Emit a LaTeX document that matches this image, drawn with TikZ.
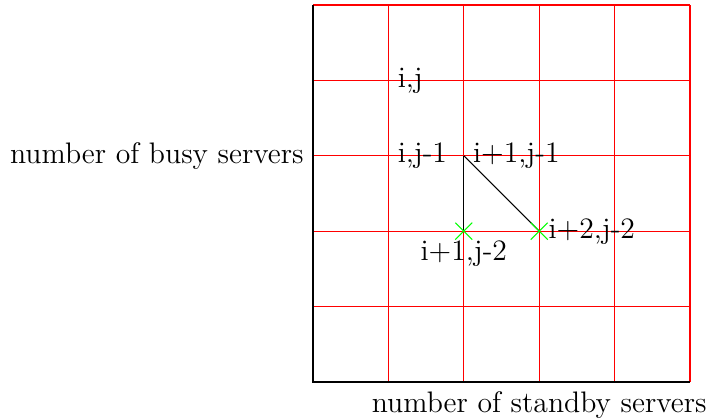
\documentclass[tikz,border=0pt]{standalone}
\usepackage{amsmath,amssymb}
\usepackage{xcolor}
\usepackage{tikz}
\usetikzlibrary{shapes.misc}

\begin{document}
\begin{tikzpicture}[every node/.style={font=\fontsize{11.2}{13}\selectfont}]
      \useasboundingbox (-4.151,-0.504) rectangle (5.212,5.066);

      % Grid of states
      \draw[red] (0,0) grid (5,5);

      % Axes
      \coordinate (origin) at (0,0);
      \coordinate (xend) at (5,0);
      \coordinate (yend) at (0,5);
      \draw (yend) -- (origin) -- (xend);

      % Axis labels
      \node[below] (xlabel) at (3,0) {number of standby servers};
      \node[left] (ylabel) at (0,3) {number of busy servers};

      % States
      \coordinate (s10) at (1,4);
      \coordinate (s11) at (1,3);
      \coordinate (s21) at (2,3);
      \coordinate (s22) at (2,2);
      \coordinate (s32) at (3,2);

      % Transitions
      \draw (s21) -- (s22);
      \draw (s21) -- (s32);

      % Marked states
      \node[green,cross out,draw,minimum size=6pt,inner sep=0pt] (m22) at (s22) {};
      \node[green,cross out,draw,minimum size=6pt,inner sep=0pt] (m32) at (s32) {};

      % Labels of the states
      \node[right] at (s10) {i,j};
      \node[right] at (s11) {i,j-1};
      \node[right] at (s21) {i+1,j-1};
      \node[below] at (s22) {i+1,j-2};
      \node[right] at (s32) {i+2,j-2};

  \end{tikzpicture}
\end{document}
